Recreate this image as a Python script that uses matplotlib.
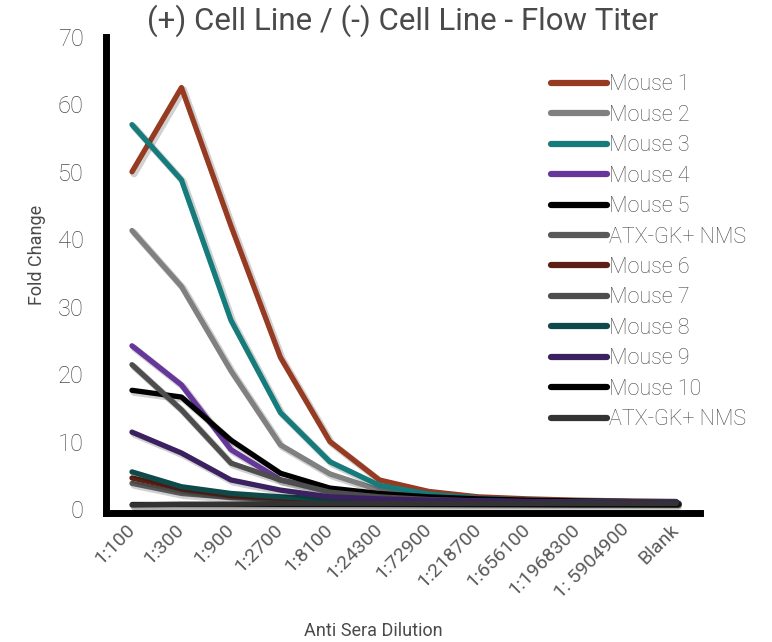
import numpy as np
import matplotlib
matplotlib.use("Agg")
import matplotlib.pyplot as plt
import matplotlib.patheffects as pe

# dilution series and fold change per serum
dilutions = ['1:100', '1:300', '1:900', '1:2700', '1:8100', '1:24300', '1:72900',
             '1:218700', '1:656100', '1:1968300', '1: 5904900', 'Blank']

mouse1 = [50.0, 62.5, 42.0, 22.5, 10.0, 4.3, 2.6, 1.8, 1.5, 1.3, 1.2, 1.1]
mouse2 = [41.3, 33.0, 20.5, 9.5, 5.2, 2.8, 1.9, 1.5, 1.3, 1.2, 1.1, 1.1]
mouse3 = [57.0, 48.8, 28.0, 14.3, 7.0, 3.5, 2.2, 1.6, 1.3, 1.2, 1.1, 1.1]
mouse4 = [24.2, 18.4, 8.8, 4.3, 2.8, 2.0, 1.6, 1.3, 1.2, 1.1, 1.1, 1.0]
mouse5 = [17.6, 16.6, 10.2, 5.3, 3.1, 2.3, 1.8, 1.5, 1.3, 1.2, 1.1, 1.0]
nms_a = [3.8, 2.3, 1.7, 1.4, 1.2, 1.1, 1.0, 1.0, 1.0, 1.0, 1.0, 1.0]
mouse6 = [4.6, 3.0, 2.0, 1.6, 1.3, 1.2, 1.1, 1.0, 1.0, 1.0, 1.0, 1.0]
mouse7 = [21.4, 14.7, 6.8, 4.3, 2.5, 1.8, 1.4, 1.2, 1.1, 1.0, 1.0, 1.0]
mouse8 = [5.5, 3.3, 2.3, 1.8, 1.5, 1.3, 1.2, 1.1, 1.0, 1.0, 1.0, 1.0]
mouse9 = [11.4, 8.3, 4.3, 2.8, 1.8, 1.5, 1.3, 1.2, 1.1, 1.0, 1.0, 1.0]
mouse10 = [0.8, 0.8, 0.8, 0.8, 0.8, 0.8, 0.8, 0.8, 0.8, 0.8, 0.8, 0.8]
nms_b = [0.6, 0.7, 0.7, 0.8, 0.8, 0.8, 0.8, 0.8, 0.8, 0.8, 0.8, 0.8]

series = [
    ('Mouse 1', mouse1, '#973a22'),
    ('Mouse 2', mouse2, '#808080'),
    ('Mouse 3', mouse3, '#157b7b'),
    ('Mouse 4', mouse4, '#66369a'),
    ('Mouse 5', mouse5, '#000000'),
    ('ATX-GK+ NMS', nms_a, '#595959'),
    ('Mouse 6', mouse6, '#5a2015'),
    ('Mouse 7', mouse7, '#4d4d4d'),
    ('Mouse 8', mouse8, '#0e4a4a'),
    ('Mouse 9', mouse9, '#3b2160'),
    ('Mouse 10', mouse10, '#000000'),
    ('ATX-GK+ NMS', nms_b, '#333333'),
]

txt = '#4a4a4a'
plt.rcParams['font.family'] = ['Roboto', 'DejaVu Sans']
plt.rcParams['font.weight'] = 'light'

fig = plt.figure(figsize=(7.72, 6.42), dpi=100)
ax = fig.add_axes([0.1373, 0.2009, 0.7694, 0.7415])

x = np.arange(len(dilutions))
shadow = [pe.SimpleLineShadow(offset=(1.5, -1.5), shadow_color='#000000', alpha=0.18, linewidth=5),
          pe.Normal()]
for name, vals, col in series:
    ax.plot(x, vals, color=col, lw=3.8, solid_capstyle='round', solid_joinstyle='round',
            label=name, path_effects=shadow)

ax.set_xlim(-0.525, 11.48)
ax.set_ylim(-0.6, 70)
ax.set_yticks(range(0, 71, 10))
ax.set_xticks(x)
ax.set_xticklabels(dilutions, rotation=45, ha='right', va='center', rotation_mode='anchor',
                   fontweight='normal')
ax.tick_params(axis='y', length=0, pad=16, labelsize=17, labelcolor=txt)
ax.tick_params(axis='x', length=0, pad=10, labelsize=14, labelcolor='#5a5a5a')

for s in ['top', 'right']:
    ax.spines[s].set_visible(False)
for s in ['left', 'bottom']:
    ax.spines[s].set_linewidth(5)
    ax.spines[s].set_color('black')

ax.set_title('(+) Cell Line / (-) Cell Line - Flow Titer', fontsize=22.5, color=txt, pad=4)
ax.set_xlabel('Anti Sera Dilution', fontsize=13, color=txt)
ax.xaxis.set_label_coords(0.45, -0.228)
ax.set_ylabel('Fold Change', fontsize=13, color=txt)
ax.yaxis.set_label_coords(-0.101, 0.542)

leg = ax.legend(loc='upper left', bbox_to_anchor=(0.735, 0.94), frameon=False,
                fontsize=15.5, handlelength=2.6, handletextpad=0.1, labelspacing=0.44,
                labelcolor=txt, borderaxespad=0)
for h in leg.get_lines():
    h.set_linewidth(4.5)
    h.set_path_effects([])
    h.set_solid_capstyle('round')

fig.savefig('out.png', dpi=100)
